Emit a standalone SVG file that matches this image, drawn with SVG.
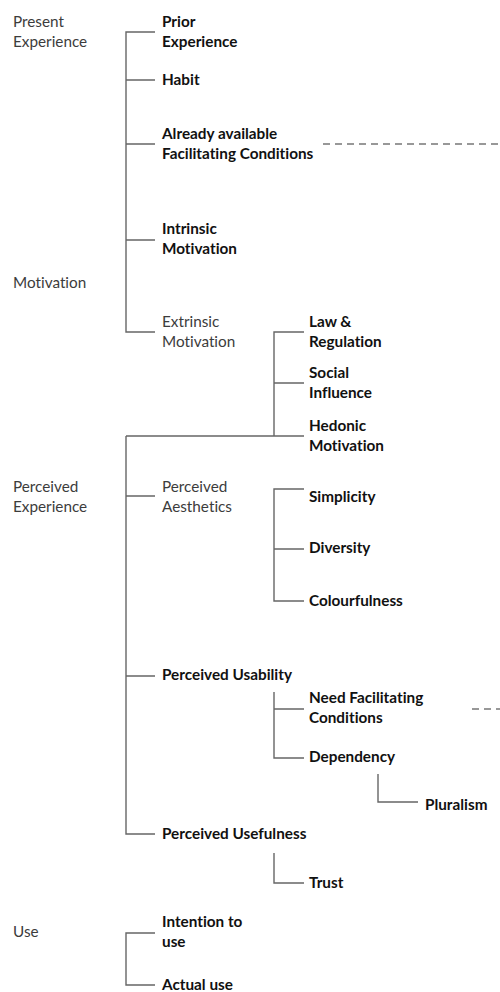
<svg xmlns="http://www.w3.org/2000/svg" width="500" height="992" viewBox="0 0 500 992">
<style>
text{font-family:Lato,"Liberation Sans",sans-serif;font-size:15.3px;font-variant-ligatures:none}
.b{font-weight:bold;fill:#111}
.n{fill:#3c3c3c}
.ln{stroke:#666;stroke-width:1.4;fill:none}
.d{stroke:#777;stroke-width:1.4;stroke-dasharray:7 5;fill:none}
</style>
<rect width="500" height="992" fill="#fff"/>
<g id="connectors">
<path class="ln" d="M155 32H126V332H155M126 80H155M126 144H155M126 240H155"/>
<path class="ln" d="M304 332H274V436H304M274 383H304M126 436H274"/>
<path class="ln" d="M126 436V834H155M126 496H155M126 676H155"/>
<path class="ln" d="M304 489H274V601H304M274 549H304"/>
<path class="ln" d="M274 692V758H304M274 709H304"/>
<path class="ln" d="M378 774V802H418"/>
<path class="ln" d="M274 853V883H304"/>
<path class="ln" d="M155 933H126V985H155"/>
<path class="d" d="M323 144H500"/>
<path class="d" d="M472 709H500"/>
</g>
<g id="present-experience"><text class="n" x="13" y="27">Present</text><text class="n" x="13" y="47">Experience</text></g>
<g id="prior-experience"><text class="b" x="162" y="27">Prior</text><text class="b" x="162" y="47">Experience</text></g>
<g id="habit"><text class="b" x="162" y="85">Habit</text></g>
<g id="already-available"><text class="b" x="162" y="139">Already available</text><text class="b" x="162" y="159">Facilitating Conditions</text></g>
<g id="motivation"><text class="n" x="13" y="288">Motivation</text></g>
<g id="intrinsic"><text class="b" x="162" y="234">Intrinsic</text><text class="b" x="162" y="254">Motivation</text></g>
<g id="extrinsic"><text class="n" x="162" y="327">Extrinsic</text><text class="n" x="162" y="347">Motivation</text></g>
<g id="law"><text class="b" x="309" y="327">Law &amp;</text><text class="b" x="309" y="347">Regulation</text></g>
<g id="social"><text class="b" x="309" y="378">Social</text><text class="b" x="309" y="398">Influence</text></g>
<g id="hedonic"><text class="b" x="309" y="431">Hedonic</text><text class="b" x="309" y="451">Motivation</text></g>
<g id="perceived-experience"><text class="n" x="13" y="492">Perceived</text><text class="n" x="13" y="512">Experience</text></g>
<g id="aesthetics"><text class="n" x="162" y="492">Perceived</text><text class="n" x="162" y="512">Aesthetics</text></g>
<g id="simplicity"><text class="b" x="309" y="502">Simplicity</text></g>
<g id="diversity"><text class="b" x="309" y="553">Diversity</text></g>
<g id="colourfulness"><text class="b" x="309" y="606">Colourfulness</text></g>
<g id="usability"><text class="b" x="162" y="680">Perceived Usability</text></g>
<g id="need-fc"><text class="b" x="309" y="703">Need Facilitating</text><text class="b" x="309" y="723">Conditions</text></g>
<g id="dependency"><text class="b" x="309" y="762">Dependency</text></g>
<g id="pluralism"><text class="b" x="425" y="810">Pluralism</text></g>
<g id="usefulness"><text class="b" x="162" y="839">Perceived Usefulness</text></g>
<g id="trust"><text class="b" x="309" y="888">Trust</text></g>
<g id="use"><text class="n" x="13" y="937">Use</text></g>
<g id="intention"><text class="b" x="162" y="927">Intention to</text><text class="b" x="162" y="947">use</text></g>
<g id="actual-use"><text class="b" x="162" y="990">Actual use</text></g>
</svg>
